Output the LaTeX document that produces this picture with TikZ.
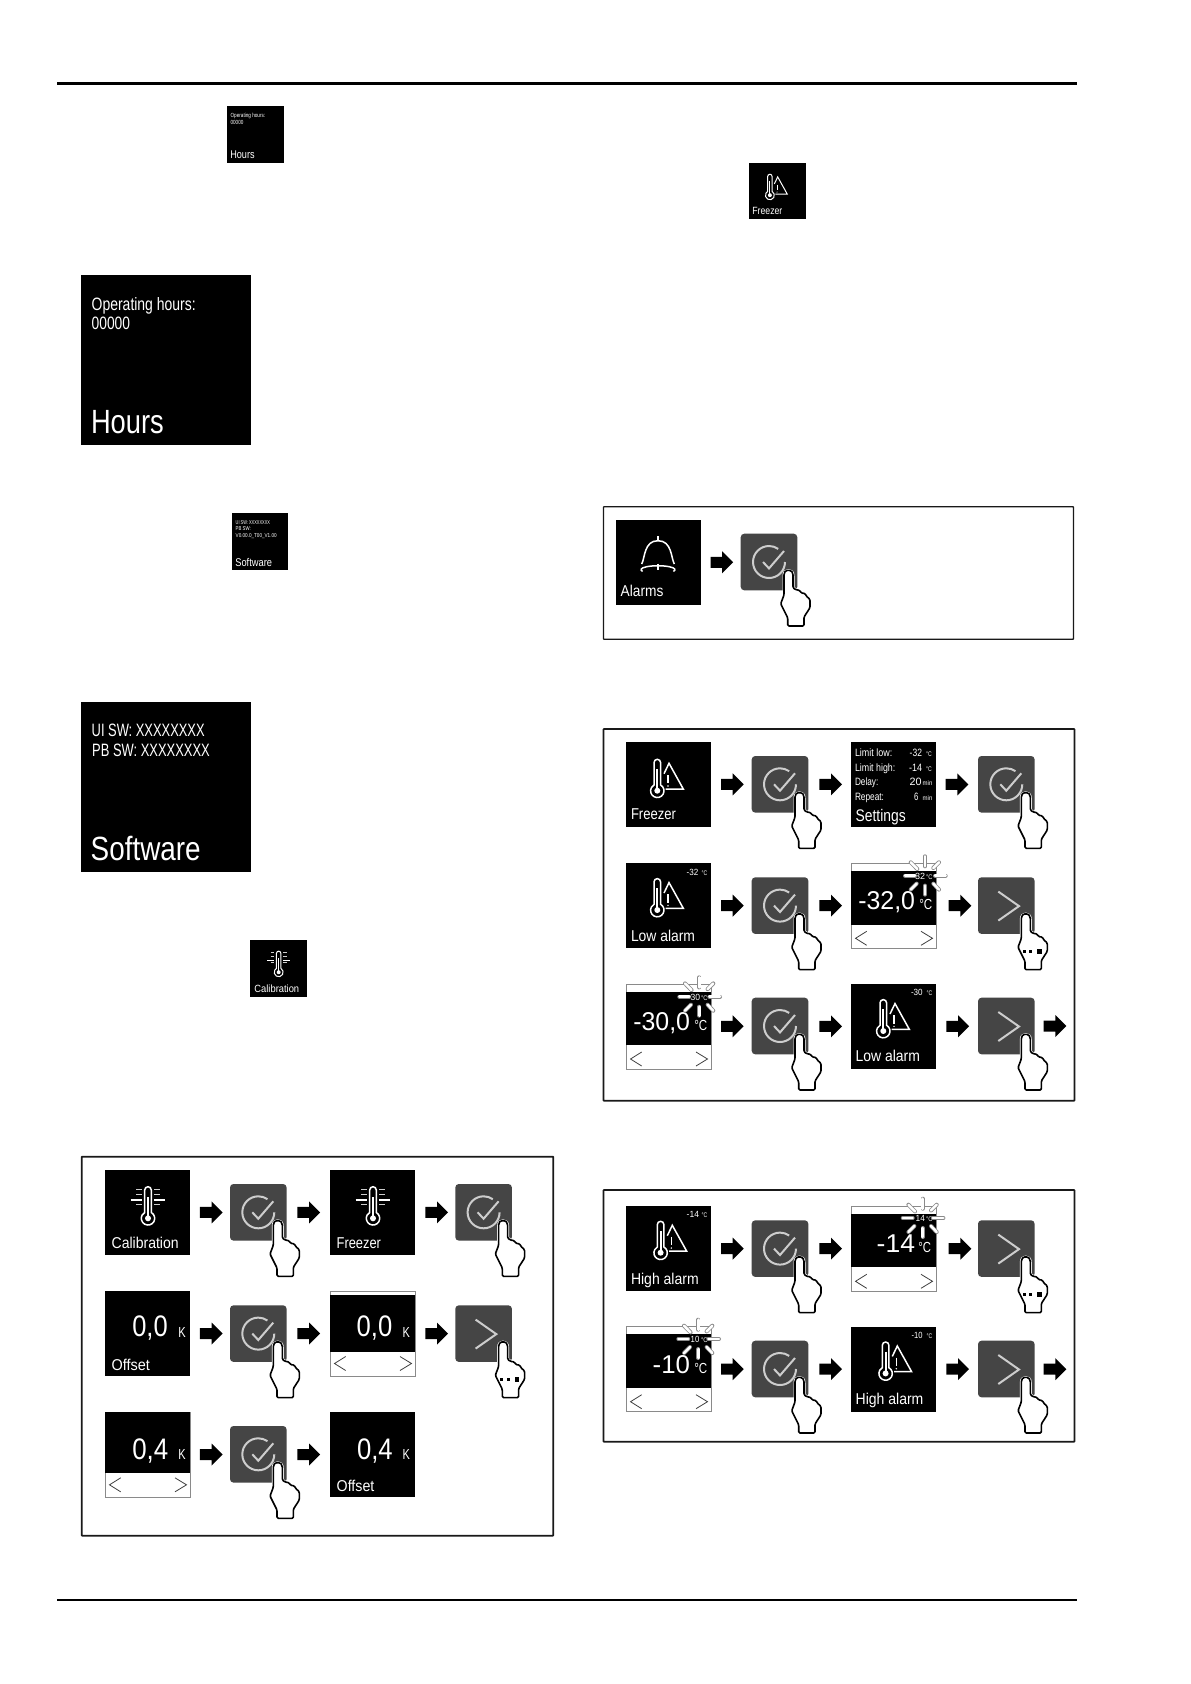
\documentclass[tikz,border=0pt]{standalone}
\usepackage{fontspec}
\usepackage{graphicx}
\setmainfont{Liberation Sans}
\definecolor{btngray}{HTML}{454545}
\definecolor{symgray}{HTML}{CDCDCD}
\definecolor{edgegray}{HTML}{8A8A8A}
\newsavebox\txbox
\newlength\txl
\newcounter{txc}
\def\ts{1}
\tikzset{
  lbl/.style={anchor=base west,inner sep=0pt,outer sep=0pt,text=white},
  tilebox/.style={anchor=north west,fill=black,inner sep=0pt,outer sep=0pt},
  editbox/.style={anchor=north west,fill=white,draw=edgegray,line width=0.9pt,inner sep=0pt,outer sep=0pt,minimum size=85pt},
  btnbox/.style={anchor=north west,fill=btngray,rounded corners=3.5pt,inner sep=0pt,outer sep=0pt,minimum size=56.6pt},
  framebox/.style={anchor=north west,draw=black!90,line width=1.8pt,rounded corners=0.6pt,inner sep=0pt,outer sep=0pt},
  sym/.style={draw=symgray,line width=2pt},
  handline/.style={line join=round,line width=1.6pt,draw=black,fill=white,rounded corners=1.2pt}
}
\newcommand\fitw[3]{\pgfmathsetmacro\fsz{#1*\ts*1.12}\fontsize{\fsz pt}{\fsz pt}\selectfont\sbox\txbox{#3}\setlength\txl{\wd\txbox}\pgfmathsetmacro\rr{(#2)*\ts/\txl}\scalebox{\rr}[1]{\usebox\txbox}}
\newcommand\tx[5]{\stepcounter{txc}\node[lbl] (tx\arabic{txc}) at (#1,#2) {\fitw{#3}{#4}{#5}};}
\newcommand\tile[5]{\pgfmathsetlengthmacro\tsz{85*#4}\node[tilebox,minimum size=\tsz] (#1) at (#2,#3) {};\begin{scope}[shift={(#2,#3)},scale=#4]\def\ts{#4}#5\end{scope}}
% edit tile: name, x, y, top white, black height, content
\newcommand\edittile[6]{\node[editbox] (#1) at (#2,#3) {};\begin{scope}[shift={(#2,#3)}]\fill[black] (0,#4) rectangle (85,#4+#5);#6\end{scope}}
\newcommand\chk{\draw[sym] (28.3,28.3) ++(0:16) arc (0:305:16);\draw[sym] (22.3,28.3) -- (28.3,34.7) -- (43.3,17.3);}
\newcommand\nxt{\draw[sym] (20.3,14.3) -- (41,28.8) -- (20.3,43.3);}
\newcommand\handpath{(43.3,42.3) .. controls (43.3,38.5) and (45,36.7) .. (47.7,36.7) .. controls (50.5,36.7) and (52.3,38.5) .. (52.3,42.3) -- (52.3,54) -- (55,56) -- (59,56.6) -- (60.5,59.3) -- (64.5,59.8) -- (65.5,62.3) -- (69.3,65.7) -- (69.3,74) -- (63.3,83.3) -- (63.3,92.3) -- (47,92.3) -- (47,84) -- (40,70) -- (43.3,61.3) -- cycle}
\newcommand\hand{\draw[white,line width=3pt,line join=round] \handpath;\draw[handline] \handpath;}
\newcommand\handdots{\fill[black] (44.7,73) rectangle +(3,2.6);\fill[black] (51.3,73) rectangle +(3,2.6);\fill[black] (59.3,72) rectangle +(4.6,4.6);}
% button: name, x, y, symbol, extra
\newcommand\btn[5]{\node[btnbox] (#1) at (#2,#3) {};\begin{scope}[shift={(#2,#3)}]#4\hand#5\end{scope}}
% block arrow between two named nodes: [dx]{from}{to}
\newcommand\conn[3][0]{\path (#2.east) -- (#3.west) coordinate[midway] (mm);\begin{scope}[shift={(mm)},xshift=#1pt]\fill[black] (-11.35,-5.5) -- (0.35,-5.5) -- (0.35,-11) -- (11.35,0) -- (0.35,11) -- (0.35,5.5) -- (-11.35,5.5) -- cycle;\end{scope}}
% alarm icon
\newcommand\alarmicon[2]{\begin{scope}[shift={(#1,#2)}]
\pgfmathsetlengthmacro\lwa{1.5*\ts}\pgfmathsetlengthmacro\lwb{1.8*\ts}
\draw[white,line width=\lwa] (34.6,43) arc (-60.5:240.5:6.7) -- (28,20.6) arc (180:360:3.3) -- cycle;
\draw[white,line width=\lwb] (31.3,27) -- (31.3,48);
\fill[white] (31.3,48.7) circle (3);
\draw[white,line width=\lwa,line join=miter] (38,31.7) -- (43,21.3) -- (57.3,47) -- (39.7,47);
\draw[white,line width=\lwa] (42,33) -- (42,41.3);
\fill[white] (42,44) circle (0.8);
\end{scope}}
% calibration icon
\newcommand\calicon{\pgfmathsetlengthmacro\lwa{1.5*\ts}\pgfmathsetlengthmacro\lwb{1.8*\ts}
\draw[white,line width=\lwa] (46.3,42.5) arc (-60.5:240.5:6.7) -- (39.7,20) arc (180:360:3.3) -- cycle;
\draw[white,line width=\lwb] (43,27) -- (43,48);
\fill[white] (43,48.3) circle (3);
\foreach \yy in {19.3,24.3,34.3}{\draw[symgray,line width=\lwa] (31,\yy) -- (36.7,\yy);\draw[symgray,line width=\lwa] (49.3,\yy) -- (55,\yy);}
\draw[white,line width=\lwa] (25.7,30) -- (36.7,30);\draw[white,line width=\lwa] (49.3,30) -- (60,30);}
\newcommand\bell{
\draw[white,line width=1.5pt] (42,16) -- (42,20.7);
\draw[white,line width=1.5pt] (25.7,44) .. controls (29,38) and (28,20.7) .. (42,20.7) .. controls (56,20.7) and (55,38) .. (58.3,44);
\draw[white,line width=1.5pt] (24.8,49.5) .. controls (27,44.5) and (57,44.5) .. (59.2,49.5);
\draw[white,line width=1.5pt] (24.8,49.5) -- (26.5,51.5);\draw[white,line width=1.5pt] (59.2,49.5) -- (57.5,51.5);
\draw[white,line width=1.5pt] (42,43.5) -- (42,50);}
\newcommand\rays[2]{\begin{scope}[shift={(#1,#2)}]
\foreach \pc/\lw in {edgegray/4pt,white/2.5pt}{
\foreach \a/\b/\c/\d in {0/-19.3/0/-9.3,0/10/0/19,-20/0/-10/0,10/0/20.7/0,-14.3/-13.3/-7.7/-6.6,14/-13.3/8.3/-7.6,-14.3/14/-8.3/8,14/14/8.3/8}{
\draw[\pc,line width=\lw,line cap=round] (\a,\b) -- (\c,\d);}}
\end{scope}}
\newcommand\arrows[2]{\draw[black!75,line width=0.8pt] (15.7,#1-7) -- (4.5,#1) -- (15.7,#1+7);\draw[black!75,line width=0.8pt] (70,#1-7) -- (81.5,#1) -- (70,#1+7);}
\begin{document}
\begin{tikzpicture}[x=1pt,y=-1pt]
\useasboundingbox (0,0) rectangle (1191,1684);
\fill[white] (0,0) rectangle (1191,1684);
% page rules
\node[inner sep=0pt] (ruleTL) at (56.7,83.6) {};\node[inner sep=0pt] (ruleTR) at (1078,83.6) {};
\node[inner sep=0pt] (ruleBL) at (56.7,1600) {};\node[inner sep=0pt] (ruleBR) at (1078,1600) {};
\draw[black,line width=2.8pt] (ruleTL) -- (ruleTR);
\draw[black,line width=2.8pt] (ruleBL) -- (ruleBR);
% frames
\node[framebox,line width=1.3pt,minimum width=470pt,minimum height=132.6pt] (frameA) at (603.4,506.7) {};
\node[framebox,minimum width=471pt,minimum height=371.7pt] (frameB) at (603.5,729) {};
\node[framebox,minimum width=471pt,minimum height=251.7pt] (frameC) at (603.5,1190) {};
\node[framebox,minimum width=471.6pt,minimum height=379pt] (frameD) at (81.7,1156.7) {};
% stand-alone tiles
\tile{smHours}{227}{106}{0.667}{\tx{5.35}{17.5}{8}{52}{Operating hours:}\tx{5.35}{27.2}{8}{19.2}{00000}\tx{5}{79}{15}{36.4}{Hours}}
\tile{bigHours}{81}{275}{2}{\tx{5.35}{17.5}{8}{52}{Operating hours:}\tx{5.35}{27.2}{8}{19.2}{00000}\tx{5}{79}{15}{36.4}{Hours}}
\tile{smFreezer}{749}{162.7}{0.667}{\alarmicon{0}{0}\tx{5}{77.3}{14}{45}{Freezer}}
\tile{smSoftware}{231.7}{513}{0.667}{\tx{6}{17}{7.5}{51.5}{UI SW: XXXXXXXX}\tx{6}{26}{7.5}{22.5}{PB SW:}\tx{6}{36.5}{7.5}{61.5}{V0.00.0\_T00\_V1.00}\tx{5.5}{79.5}{15}{55}{Software}}
\tile{bigSoftware}{81}{702.3}{2}{\tx{5.35}{16.9}{8}{56.5}{UI SW: XXXXXXXX}\tx{5.6}{26.9}{8}{58.8}{PB SW: XXXXXXXX}\tx{4.85}{78.9}{15}{55}{Software}}
\tile{smCalib}{250}{940}{0.667}{\calicon\tx{6.7}{78.3}{14}{67}{Calibration}}
% frame A: alarms
\tile{aT}{616}{520}{1}{\bell\tx{4.7}{76.7}{14}{42.7}{Alarms}}
\btn{aB}{740.7}{533.7}{\chk}{}
\conn[1]{aT}{aB}
% frame B row 1
\tile{b1T}{626}{742}{1}{\alarmicon{0}{0}\tx{5}{77.3}{14}{45}{Freezer}}
\btn{b1B}{751.7}{756}{\chk}{}
\tile{b1S}{851}{742}{1}{
\tx{4}{14.7}{9.5}{37.3}{Limit low:}\tx{58.7}{14.7}{9.5}{12.3}{-32}\tx{75}{14.7}{6}{5.7}{°C}
\tx{4}{29.7}{9.5}{40.3}{Limit high:}\tx{58}{29.7}{9.5}{13}{-14}\tx{75}{29.7}{6}{5.7}{°C}
\tx{4}{43.7}{9.5}{23.3}{Delay:}\tx{58.7}{43.7}{9.5}{12}{20}\tx{71.7}{43.7}{6}{9.7}{min}
\tx{4}{58.3}{9.5}{29}{Repeat:}\tx{63}{58.3}{9.5}{4.3}{6}\tx{71.7}{58.3}{6}{9.7}{min}
\tx{4.7}{79}{15}{50}{Settings}}
\btn{b1C}{978}{756}{\chk}{}
\conn[1]{b1T}{b1B}\conn[1]{b1B}{b1S}\conn{b1S}{b1C}
% frame B row 2
\tile{b2T}{626}{863}{1}{\alarmicon{0}{-1.7}\tx{60.7}{12}{8}{11.7}{-32}\tx{75.7}{12}{6}{5.7}{°C}\tx{5}{78}{14}{64}{Low alarm}}
\btn{b2B}{751.7}{877.3}{\chk}{}
\edittile{b2E}{851}{863.3}{7.5}{54}{\tx{7.3}{46.3}{23}{56.7}{-32,0}\tx{68.3}{46.3}{13}{13}{°C}\tx{64}{16.3}{8}{10}{32}\tx{75}{16.3}{6}{6.5}{°C}\rays{74}{12.3}\arrows{75}{}}
\btn{b2C}{978}{877.3}{\nxt}{\handdots}
\conn[1]{b2T}{b2B}\conn[1]{b2B}{b2E}\conn[3]{b2E}{b2C}
% frame B row 3
\edittile{b3E}{626}{984}{7.5}{53.5}{\tx{7.3}{46.3}{23}{56.7}{-30,0}\tx{68.3}{46.3}{13}{13}{°C}\tx{64.7}{16.3}{8}{9.5}{30}\tx{75}{16.3}{6}{6.5}{°C}\rays{73.3}{12.7}\arrows{75}{}}
\btn{b3B}{751.7}{997.7}{\chk}{}
\tile{b3T}{851}{984}{1}{\alarmicon{1}{-1.7}\tx{60}{11.3}{8}{11.7}{-30}\tx{75.7}{11.3}{6}{5.7}{°C}\tx{4.7}{77.7}{14}{64.3}{Low alarm}}
\btn{b3C}{978}{997.7}{\nxt}{}
\node[inner sep=0pt,minimum size=0pt] (b3end) at (1075.7,1026) {};
\conn[1]{b3E}{b3B}\conn[1]{b3B}{b3T}\conn[.7]{b3T}{b3C}\conn{b3C}{b3end}
% frame C row 1
\tile{c1T}{626}{1206}{1}{\alarmicon{3.3}{-2}\tx{60.7}{11.7}{8}{12.3}{-14}\tx{75.7}{11.7}{6}{5.7}{°C}\tx{5}{78.3}{14}{67.7}{High alarm}}
\btn{c1B}{751.7}{1220.3}{\chk}{}
\edittile{c1E}{851}{1206.3}{7.5}{53.5}{\tx{25.7}{46}{23}{38.3}{-14}\tx{67.3}{46}{13}{12.7}{°C}\tx{64.7}{15.5}{8}{9.3}{14}\tx{75}{15.5}{6}{6.5}{°C}\rays{71.7}{11.7}\arrows{75}{}}
\btn{c1C}{978}{1220.3}{\nxt}{\handdots}
\conn[1]{c1T}{c1B}\conn[1]{c1B}{c1E}\conn[3]{c1E}{c1C}
% frame C row 2
\edittile{c2E}{626}{1326.7}{7.3}{54}{\tx{26.7}{46.7}{23}{37.3}{-10}\tx{68.3}{46.7}{13}{13}{°C}\tx{64.7}{16}{8}{8.6}{10}\tx{75}{16}{6}{6.7}{°C}\rays{72.3}{12.3}\arrows{75}{}}
\btn{c2B}{751.7}{1340.7}{\chk}{}
\tile{c2T}{851}{1326.7}{1}{\alarmicon{3.3}{-2}\tx{60.7}{11.7}{8}{11}{-10}\tx{75.7}{11.7}{6}{5.7}{°C}\tx{4.7}{77.3}{14}{67.7}{High alarm}}
\btn{c2C}{978}{1340.7}{\nxt}{}
\node[inner sep=0pt,minimum size=0pt] (c2end) at (1075.7,1369.3) {};
\conn[1]{c2E}{c2B}\conn[1]{c2B}{c2T}\conn[.7]{c2T}{c2C}\conn{c2C}{c2end}
% frame D row 1
\tile{d1T}{105}{1170}{1}{\calicon\tx{6.7}{78.3}{14}{67}{Calibration}}
\btn{d1B}{230}{1184}{\chk}{}
\tile{d1U}{330}{1170}{1}{\calicon\tx{6.7}{78.3}{14}{44.3}{Freezer}}
\btn{d1C}{455.3}{1184}{\chk}{}
\conn[1.3]{d1T}{d1B}\conn[.5]{d1B}{d1U}\conn[1.5]{d1U}{d1C}
% frame D row 2
\tile{d2T}{105}{1291}{1}{\tx{27.3}{45.7}{26.5}{35.4}{0,0}\tx{73.3}{46.7}{13}{7.4}{K}\tx{6.7}{79}{14}{38.3}{Offset}}
\btn{d2B}{230}{1305.3}{\chk}{}
\edittile{d2E}{330}{1291}{4}{56.7}{\tx{26.7}{45.7}{26.5}{35.6}{0,0}\tx{72.7}{46.7}{13}{7.3}{K}\arrows{72.5}{}}
\btn{d2C}{455.3}{1305.3}{\nxt}{\handdots}
\conn[1.3]{d2T}{d2B}\conn[.5]{d2B}{d2E}\conn[1.5]{d2E}{d2C}
% frame D row 3
\edittile{d3E}{105}{1412.3}{0}{60.4}{\tx{27.3}{47}{26.5}{36}{0,4}\tx{73.3}{47}{13}{7.3}{K}\arrows{72.5}{}}
\btn{d3B}{230}{1426}{\chk}{}
\tile{d3T}{330}{1412.3}{1}{\tx{27}{47}{26.5}{35.7}{0,4}\tx{72.7}{47}{13}{7.3}{K}\tx{6.7}{78.7}{14}{37.7}{Offset}}
\conn[1.3]{d3E}{d3B}\conn[.5]{d3B}{d3T}
\end{tikzpicture}
\end{document}
